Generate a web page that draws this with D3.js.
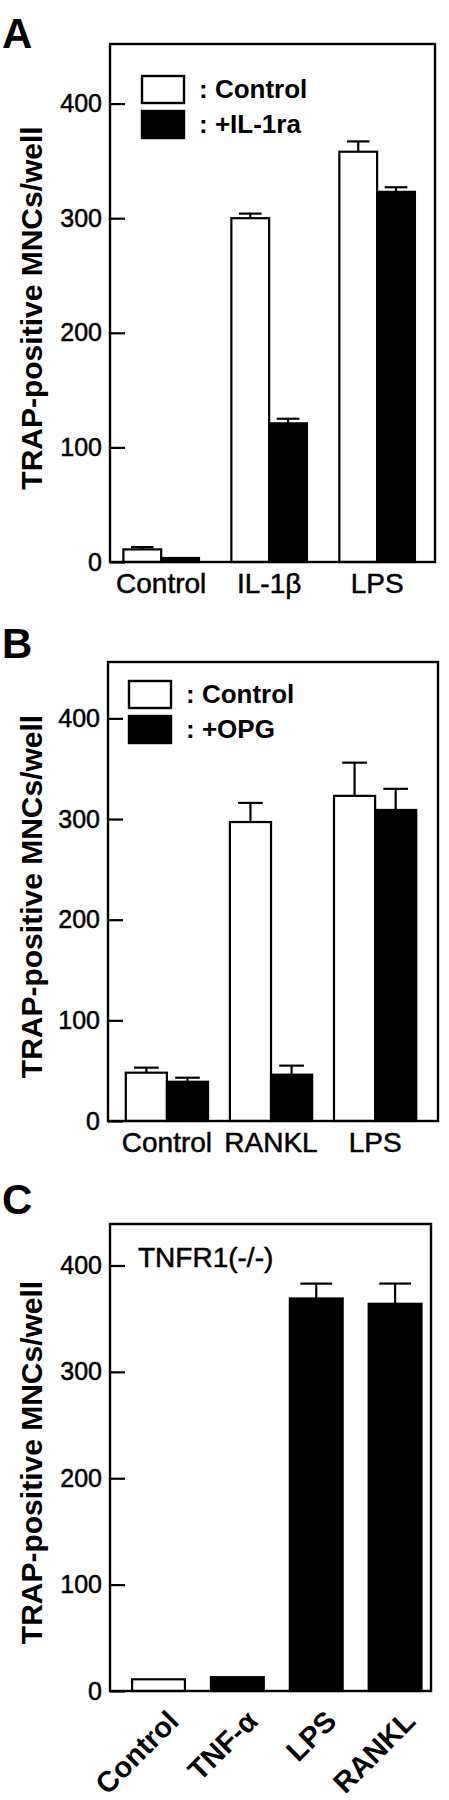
<!DOCTYPE html>
<html>
<head>
<meta charset="utf-8">
<script src="https://cdn.jsdelivr.net/npm/d3@7"></script>
<style>
  body { margin: 0; background: #fff; }
  svg { display: block; font-family: "Liberation Sans", Arial, Helvetica, sans-serif; }
</style>
</head>
<body>
<svg id="chart"></svg>
<script>
// panel A
const aCategories = ['Control', 'IL-1β', 'LPS']
const aControl = [11, 300, 358]
const aControlErr = [2, 4, 9]
const aIL1ra = [3.5, 121, 323]
const aIL1raErr = [0, 4, 4]
const aLegend = [': Control', ': +IL-1ra']

// panel B
const bCategories = ['Control', 'RANKL', 'LPS']
const bControl = [48, 297, 323]
const bControlErr = [5, 19, 33]
const bOPG = [39, 46, 309]
const bOPGErr = [4, 9, 21]
const bLegend = [': Control', ': +OPG']

// panel C
const cCategories = ['Control', 'TNF-α', 'LPS', 'RANKL']
const cValues = [11, 13, 369, 364]
const cErr = [0, 0, 14, 19]
const cFills = ['white', 'black', 'black', 'black']
const cNote = 'TNFR1(-/-)'

const yTicks = [0, 100, 200, 300, 400]
const yTitle = 'TRAP-positive MNCs/well'

const width = 449, height = 1800

const svg = d3.select('#chart')
  .attr('width', width).attr('height', height)

svg.append('rect').attr('width', width).attr('height', height).attr('fill', 'white')

// regular text in the figure is a bit heavier than Liberation regular
const medium = sel => sel.attr('stroke', 'black').attr('stroke-width', 0.5)

function frameAndAxis(g, p, y) {
  let ax = g.append('g')
    .attr('transform', `translate(${p.x0}, 0)`)
    .call(d3.axisLeft(y).tickValues(yTicks).tickSize(-15).tickPadding(8))
  ax.select('.domain').remove()
  ax.selectAll('.tick line').attr('stroke', 'black').attr('stroke-width', 2.2)
  ax.selectAll('.tick text')
    .attr('fill', 'black')
    .style('font-size', '25px')
    .style('font-family', '"Liberation Sans", Arial, sans-serif')
    .call(medium)

  g.append('text')
    .attr('transform', `translate(42, ${(p.top + p.bottom) / 2 + 5}) rotate(-90)`)
    .attr('text-anchor', 'middle')
    .style('font-size', '30px').style('font-weight', 'bold')
    .text(yTitle)

  g.append('text')
    .attr('x', 2).attr('y', p.letterY)
    .style('font-size', '42px').style('font-weight', 'bold')
    .text(p.letter)
}

function drawFrame(g, p) {
  g.append('rect')
    .attr('x', p.x0).attr('y', p.top)
    .attr('width', p.x1 - p.x0).attr('height', p.bottom - p.top)
    .attr('fill', 'none').attr('stroke', 'black').attr('stroke-width', 2.4)
}

function errBar(g, cx, yTop, yErr, cap) {
  if (yErr >= yTop - 0.5) return
  g.append('line')
    .attr('x1', cx).attr('x2', cx).attr('y1', yTop).attr('y2', yErr)
    .attr('stroke', 'black').attr('stroke-width', 2.2)
  g.append('line')
    .attr('x1', cx - cap / 2).attr('x2', cx + cap / 2).attr('y1', yErr).attr('y2', yErr)
    .attr('stroke', 'black').attr('stroke-width', 2.2)
}

function groupedPanel(p) {
  let g = svg.append('g')

  let y = d3.scaleLinear().domain([0, p.ymax]).range([p.bottom, p.top])
  let x = d3.scaleBand().domain(p.categories).range([p.x0, p.x1])
    .paddingInner(p.pi).paddingOuter(p.po).align(p.align)
  let xs = d3.scaleBand().domain([0, 1]).range([0, x.bandwidth()])
  let bw = xs.bandwidth()

  let series = [
    { vals: p.s1, errs: p.e1, fill: 'white' },
    { vals: p.s2, errs: p.e2, fill: 'black' }
  ]

  series.forEach((s, si) => {
    g.append('g').selectAll('rect')
      .data(s.vals).enter().append('rect')
      .attr('x', (d, i) => x(p.categories[i]) + xs(si))
      .attr('y', d => y(d))
      .attr('width', bw)
      .attr('height', d => y(0) - y(d))
      .attr('fill', s.fill)
      .attr('stroke', 'black').attr('stroke-width', 2.2)

    s.vals.forEach((d, i) => {
      errBar(g, x(p.categories[i]) + xs(si) + bw / 2, y(d), y(d + s.errs[i]), bw * 0.6)
    })
  })

  drawFrame(g, p)
  frameAndAxis(g, p, y)

  g.append('g').selectAll('text')
    .data(p.categories).enter().append('text')
    .attr('x', d => x(d) + x.bandwidth() / 2)
    .attr('y', p.bottom + 31)
    .attr('text-anchor', 'middle')
    .style('font-size', '28px')
    .call(medium)
    .text(d => d)

  // legend
  let lg = g.append('g')
  ;['white', 'black'].forEach((f, i) => {
    lg.append('rect')
      .attr('x', p.legX).attr('y', p.legY + i * 35)
      .attr('width', 42).attr('height', 27)
      .attr('fill', f).attr('stroke', 'black').attr('stroke-width', 2.4)
    lg.append('text')
      .attr('x', p.legX + 57).attr('y', p.legY + 22 + i * 35)
      .style('font-size', '26px').style('font-weight', 'bold')
      .text(p.legend[i])
  })
}

groupedPanel({
  letter: 'A', letterY: 48,
  x0: 110, x1: 435, top: 44, bottom: 562, ymax: 452,
  categories: aCategories, s1: aControl, e1: aControlErr, s2: aIL1ra, e2: aIL1raErr,
  pi: 0.3, po: 0.155, align: 0.4,
  legX: 142, legY: 76, legend: aLegend
})

groupedPanel({
  letter: 'B', letterY: 658,
  x0: 108, x1: 438, top: 662, bottom: 1121, ymax: 456,
  categories: bCategories, s1: bControl, e1: bControlErr, s2: bOPG, e2: bOPGErr,
  pi: 0.21, po: 0.19, align: 0.45,
  legX: 129, legY: 681, legend: bLegend
})

// panel C
{
  let p = { letter: 'C', letterY: 1214, x0: 110, x1: 431, top: 1224, bottom: 1691, ymax: 439 }
  let g = svg.append('g')
  let y = d3.scaleLinear().domain([0, p.ymax]).range([p.bottom, p.top])
  let x = d3.scaleBand().domain(cCategories).range([p.x0, p.x1])
    .paddingInner(0.33).paddingOuter(0.2).align(0.7)
  let bw = x.bandwidth()

  g.append('g').selectAll('rect')
    .data(cValues).enter().append('rect')
    .attr('x', (d, i) => x(cCategories[i]))
    .attr('y', d => y(d))
    .attr('width', bw)
    .attr('height', d => y(0) - y(d))
    .attr('fill', (d, i) => cFills[i])
    .attr('stroke', 'black').attr('stroke-width', 2.2)

  cValues.forEach((d, i) => {
    errBar(g, x(cCategories[i]) + bw / 2, y(d), y(d + cErr[i]), bw * 0.6)
  })

  drawFrame(g, p)
  frameAndAxis(g, p, y)

  g.append('text')
    .attr('x', 138).attr('y', 1267)
    .style('font-size', '28px')
    .call(medium)
    .text(cNote)

  g.append('g').selectAll('text')
    .data(cCategories).enter().append('text')
    .attr('transform', d => `translate(${x(d) + bw / 2 + 22}, ${p.bottom + 32}) rotate(-45)`)
    .attr('text-anchor', 'end')
    .style('font-size', '29px').style('font-weight', 'bold')
    .text(d => d)
}
</script>
</body>
</html>
